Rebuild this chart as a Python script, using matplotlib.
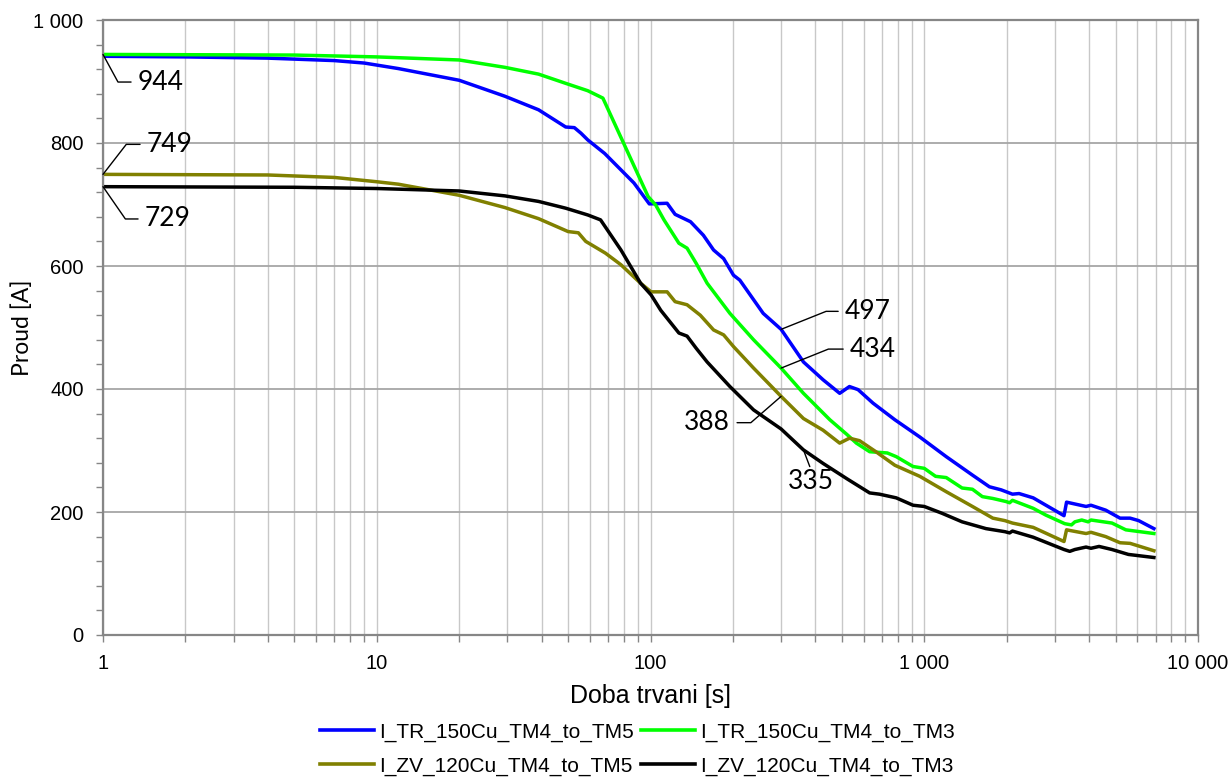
import numpy as np
import matplotlib
matplotlib.use('Agg')
import matplotlib.pyplot as plt
from matplotlib.ticker import FixedLocator, FuncFormatter, NullFormatter

# Doba trvani [s] / Proud [A]
t_tr5 = [1, 2, 4, 7, 9, 12, 20, 29.4, 39, 49, 52.7, 55.7, 59, 68, 87, 99, 115, 123, 140, 156, 170, 185, 201,
         212, 258, 300, 362, 427, 491, 533, 573, 650, 781, 963, 1203, 1500, 1730, 1910, 2100, 2220, 2500, 3240,
         3310, 3900, 4065, 4600, 5190, 5650, 6070, 6900]
i_tr5 = [941, 940, 938, 934, 930, 921, 902, 876, 854, 826, 825, 816, 805, 783, 735, 701, 702, 684, 672, 650, 626,
         612, 585, 577, 523, 497, 444, 415, 393, 404, 399, 377, 350, 322, 290, 260, 241, 236, 229, 230, 223, 194,
         216, 209, 211, 203, 190, 190, 186, 173]

t_tr3 = [1, 5, 10, 20, 29.4, 39, 49, 59, 67, 98, 104.5, 112, 127, 136, 147, 161, 195, 238, 300, 362, 452, 522,
         565, 632, 733, 790, 910, 1000, 1100, 1203, 1375, 1500, 1630, 1780, 1990, 2050, 2100, 2500, 2780, 3260,
         3450, 3550, 3760, 3970, 4065, 4850, 5450, 6900]
i_tr3 = [944, 943, 940, 935, 923, 912, 897, 885, 873, 713, 699, 675, 637, 629, 604, 572, 523, 480, 434, 393, 350,
         326, 312, 298, 296, 290, 274, 271, 258, 256, 239, 237, 225, 222, 217, 215, 219, 206, 195, 181,
         179, 184, 187, 184, 187, 182, 171, 165]

t_zv5 = [1, 4, 7, 10, 12, 20, 29.4, 39, 50, 54.5, 58, 68.4, 78, 92, 100.5, 115, 123, 136, 152, 170, 185, 201, 238,
         300, 362, 427, 491, 533, 580, 666, 781, 963, 1203, 1500, 1780, 1970, 2100, 2500, 3240, 3310, 3900, 4065,
         4600, 5190, 5650, 6900]
i_zv5 = [749, 748, 744, 737, 733, 715, 695, 677, 656, 654, 640, 621, 602, 572, 558, 558, 542, 537, 520, 496, 488,
         469, 434, 388, 352, 333, 312, 320, 316, 298, 276, 258, 233, 209, 190, 186, 182, 175, 152, 171, 165, 167,
         160, 150, 149, 137]

t_zv3 = [1, 5, 10, 20, 29.4, 39, 49, 59, 65.7, 78, 92, 100.5, 109, 127, 136, 147, 161, 195, 238, 300, 362, 427,
         522, 632, 686, 790, 910, 1000, 1160, 1375, 1680, 1970, 2050, 2100, 2500, 3240, 3400, 3550, 3900, 4065,
         4350, 4850, 5570, 6900]
i_zv3 = [729, 728, 726, 722, 714, 705, 694, 683, 675, 626, 572, 553, 528, 491, 486, 466, 444, 404, 366, 335, 301,
         279, 254, 231, 229, 223, 211, 209, 198, 184, 173, 168, 166, 169, 159, 139, 136, 139, 143, 141,
         144, 139, 131, 126]

names = ['I_TR_150Cu_TM4_to_TM5', 'I_TR_150Cu_TM4_to_TM3', 'I_ZV_120Cu_TM4_to_TM5', 'I_ZV_120Cu_TM4_to_TM3']
colors = ['#0000ff', '#00ff00', '#808000', '#000000']
x_major = [1, 10, 100, 1000, 10000]
y_major = [0, 200, 400, 600, 800, 1000]


def thousands(v, pos):
    return '{:,.0f}'.format(v).replace(',', ' ')


def at(t, ts, vs):
    return float(np.interp(np.log10(t), np.log10(ts), vs))


fig = plt.figure(figsize=(12.32, 7.8), dpi=100)
ax = fig.add_axes([103 / 1232, 1 - 635 / 780, 1095 / 1232, 615 / 780])

series = [(t_tr5, i_tr5), (t_tr3, i_tr3), (t_zv5, i_zv5), (t_zv3, i_zv3)]
lines = []
for (ts, vs), name, c in zip(series, names, colors):
    ln, = ax.plot(ts, vs, color=c, lw=2.5, label=name, solid_joinstyle='round')
    lines.append(ln)

ax.set_xscale('log')
ax.set_xlim(1, 10000)
ax.set_ylim(0, 1000)
ax.xaxis.set_major_locator(FixedLocator(x_major))
ax.xaxis.set_major_formatter(FuncFormatter(thousands))
ax.xaxis.set_minor_locator(FixedLocator([m * d for d in [1, 10, 100, 1000] for m in range(2, 10)]))
ax.xaxis.set_minor_formatter(NullFormatter())
ax.yaxis.set_major_locator(FixedLocator(y_major))
ax.yaxis.set_major_formatter(FuncFormatter(thousands))
ax.yaxis.set_minor_locator(FixedLocator(np.arange(0, 1001, 40)))

ax.grid(True, axis='x', which='both', color='#c8c8c8', lw=1.0)
ax.grid(True, axis='y', which='major', color='#a6a6a6', lw=1.3)
ax.set_axisbelow(True)
for s in ax.spines.values():
    s.set_color('#868686')
    s.set_linewidth(1.6)
ax.tick_params(which='both', direction='out', length=5, width=1, color='#868686')
ax.tick_params(axis='y', pad=9)
ax.tick_params(axis='x', pad=9)
for lab in ax.get_xticklabels() + ax.get_yticklabels():
    lab.set_family('Liberation Sans')
    lab.set_fontsize(14.5)

ax.set_xlabel('Doba trvani [s]', family='Liberation Sans', fontsize=18)
ax.xaxis.set_label_coords(0.5, -0.1)
ax.xaxis.label.set_va('center')
ax.set_ylabel('Proud [A]', family='Lato', fontsize=16.5)
ax.yaxis.set_label_coords(-0.074, 0.5)
ax.yaxis.label.set_va('center')


def label(text, ts, vs, t, dx, dy, ang, ha='left'):
    v = at(t, ts, vs)
    rx = 0 if ha == 'left' else 1
    ax.annotate(text, xy=(t, v), xytext=(dx * 0.72, dy * 0.72), textcoords='offset points',
                ha=ha, va='center', fontsize=19, family='Lato',
                arrowprops=dict(arrowstyle='-', lw=1, color='black', relpos=(rx, 0.5), shrinkA=3, shrinkB=0,
                                connectionstyle='angle,angleA=0,angleB=%g,rad=0' % ang))


label('944', t_tr3, i_tr3, 1, 35, -27.6, -61.5)
label('749', t_zv5, i_zv5, 1, 44, 30, 52.2)
label('729', t_zv3, i_zv3, 1, 42, -32.3, -55.3)
label('497', t_tr5, i_tr5, 300, 64, 18, 21.8)
label('434', t_tr3, i_tr3, 300, 69, 19, 21.9)
label('388', t_zv5, i_zv5, 300, -51, -26.3, 41, ha='right')
ax.annotate('335', xy=(362, at(362, t_zv3, i_zv3)), xytext=(7.4 * 0.72, -32 * 0.72), textcoords='offset points',
            ha='center', va='center', fontsize=19, family='Lato',
            arrowprops=dict(arrowstyle='-', lw=1, color='black', relpos=(0.5, 1), shrinkA=0, shrinkB=0))

# two columns filled column by column: blue/olive left, green/black right
order = [0, 2, 1, 3]
leg = fig.legend([lines[k] for k in order], [names[k] for k in order], loc='center',
                 bbox_to_anchor=(637.5 / 1232, 1 - 749 / 780), ncol=2, frameon=False,
                 prop={'family': 'Liberation Sans', 'size': 15}, handlelength=2.6, handletextpad=0.25,
                 columnspacing=0.35, labelspacing=0.7, borderpad=0)
for h in leg.get_lines():
    h.set_linewidth(2.6)

fig.savefig('out.png', dpi=100)
